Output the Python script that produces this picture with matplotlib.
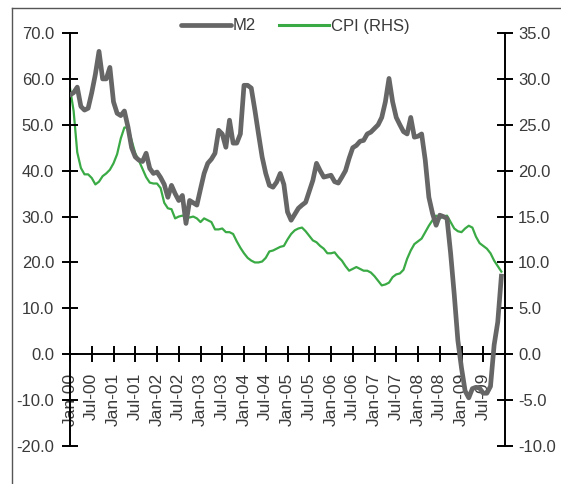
import matplotlib
matplotlib.use("Agg")
import matplotlib.pyplot as plt
import matplotlib.ticker as ticker
from matplotlib.lines import Line2D

# datos mensuales Jan-00 .. Dec-09
m2 = [56.5, 57, 58.2, 54, 53.2, 53.6, 57, 61, 66, 60,
      60, 62.5, 55, 52.5, 52, 53, 49.5, 45, 43, 42.3,
      42, 43.8, 40.5, 39.4, 39.7, 38.5, 37, 34.2, 36.8, 35,
      33.5, 34.6, 28.5, 33.5, 33, 32.5, 36, 39.4, 41.6, 42.5,
      43.8, 48.8, 48, 45.1, 51, 46, 46, 48, 58.6, 58.6,
      58, 53.2, 48, 43, 39.4, 36.8, 36.4, 37.5, 39.4, 37,
      31, 29.2, 30.5, 31.8, 32.5, 33.1, 35.5, 37.9, 41.6, 40,
      38.6, 38.8, 39, 37.6, 37.3, 38.6, 40, 42.7, 45, 45.5,
      46.4, 46.6, 48, 48.4, 49.2, 50, 51.6, 55, 60.1, 55,
      51.6, 50, 48.5, 48, 51.6, 47.3, 47.5, 48, 42.3, 34.2,
      30.7, 28.1, 30.3, 30, 29.6, 22, 13, 3, -3, -8,
      -9.5, -7.5, -7.2, -7.4, -8.5, -8.5, -7, 2, 7, 17]

cpi = [29.0, 26.5, 22, 20.3, 19.6, 19.6, 19.2, 18.5, 18.8, 19.4,
       19.7, 20.1, 20.8, 21.8, 23.5, 24.7, 24.7, 23.3, 21.9, 21.1,
       20.2, 19.3, 18.7, 18.6, 18.6, 18.1, 16.5, 15.9, 15.8, 14.8,
       15.0, 15.1, 15.0, 14.9, 15.0, 14.8, 14.4, 14.8, 14.6, 14.4,
       13.6, 13.6, 13.7, 13.3, 13.3, 13.1, 12.3, 11.6, 11.0, 10.5,
       10.2, 10.0, 10.0, 10.1, 10.5, 11.2, 11.3, 11.5, 11.7, 11.8,
       12.5, 13.1, 13.5, 13.7, 13.8, 13.4, 12.9, 12.4, 12.2, 11.8,
       11.5, 11.0, 11.0, 11.1, 10.6, 10.2, 9.6, 9.1, 9.3, 9.5,
       9.3, 9.1, 9.1, 8.9, 8.5, 8.0, 7.5, 7.6, 7.8, 8.4,
       8.7, 8.8, 9.2, 10.4, 11.3, 12.0, 12.3, 12.6, 13.3, 14.0,
       14.6, 15.1, 14.8, 15.0, 15.1, 14.4, 13.7, 13.4, 13.3, 13.7,
       14.0, 13.8, 12.8, 12.1, 11.8, 11.5, 11.0, 10.2, 9.6, 9.0]

etiquetas_x = ["Jan-00", "Jul-00", "Jan-01", "Jul-01", "Jan-02", "Jul-02",
               "Jan-03", "Jul-03", "Jan-04", "Jul-04", "Jan-05", "Jul-05",
               "Jan-06", "Jul-06", "Jan-07", "Jul-07", "Jan-08", "Jul-08",
               "Jan-09", "Jul-09"]

plt.rcParams["font.family"] = ["Liberation Sans", "DejaVu Sans"]
gris_txt = "#3a3a3a"
gris_m2 = "#666666"
verde = "#3aaa45"

W, H = 561, 484
fig = plt.figure(figsize=(W / 100, H / 100), dpi=100)
ax = fig.add_axes([70 / W, 38 / H, 435 / W, 413 / H])
ax2 = ax.twinx()

meses = list(range(len(m2)))
ax.plot(meses, m2, color=gris_m2, lw=3.4, solid_joinstyle="round", zorder=3)
ax2.plot(meses, cpi, color=verde, lw=1.6, zorder=2)
ax.set_zorder(ax2.get_zorder() + 1)
ax.patch.set_visible(False)

ax.set_xlim(0, 120)
ax.set_ylim(-20, 70)
ax2.set_ylim(-10, 35)

# ejes
for a in (ax, ax2):
    for s in a.spines.values():
        s.set_visible(False)
ax.spines["left"].set_visible(True)
ax.spines["bottom"].set_visible(True)
ax.spines["bottom"].set_position(("data", 0))
ax2.spines["right"].set_visible(True)
for s in (ax.spines["left"], ax.spines["bottom"], ax2.spines["right"]):
    s.set_linewidth(1.4)
    s.set_color("black")

ax.set_yticks(range(-20, 71, 10))
ax.yaxis.set_major_formatter(ticker.FormatStrFormatter("%.1f"))
ax2.set_yticks(range(-10, 36, 5))
ax2.yaxis.set_major_formatter(ticker.FormatStrFormatter("%.1f"))

ax.set_xticks(range(0, 120, 6))
ax.set_xticklabels(etiquetas_x, rotation=90, fontsize=12.5,
                   va="top", ha="center")

ax.tick_params(axis="y", direction="inout", length=11, width=1.4,
               labelsize=12, labelcolor=gris_txt, pad=6)
ax2.tick_params(axis="y", direction="inout", length=11, width=1.4,
                labelsize=12, labelcolor=gris_txt, pad=4)
ax.tick_params(axis="x", direction="inout", length=11, width=1.4,
               labelcolor=gris_txt, pad=8)

# leyenda
h1 = Line2D([], [], color=gris_m2, lw=3.4, solid_capstyle="round")
h2 = Line2D([], [], color=verde, lw=2.2)
fig.legend([h1, h2], ["M2", "CPI (RHS)"], loc="center",
           bbox_to_anchor=(295 / W, 1 - 26 / H), ncol=2, frameon=False,
           fontsize=12, handlelength=3.0, handletextpad=0.1,
           columnspacing=1.4, labelcolor=gris_txt)

# marco
fig.add_artist(Line2D([12 / W, 12 / W], [0, 1 - 8 / H], color="#555555",
                      lw=1.0, transform=fig.transFigure))
fig.add_artist(Line2D([12 / W, 1], [1 - 8 / H, 1 - 8 / H], color="#555555",
                      lw=1.0, transform=fig.transFigure))

fig.savefig("out.png", dpi=100)
